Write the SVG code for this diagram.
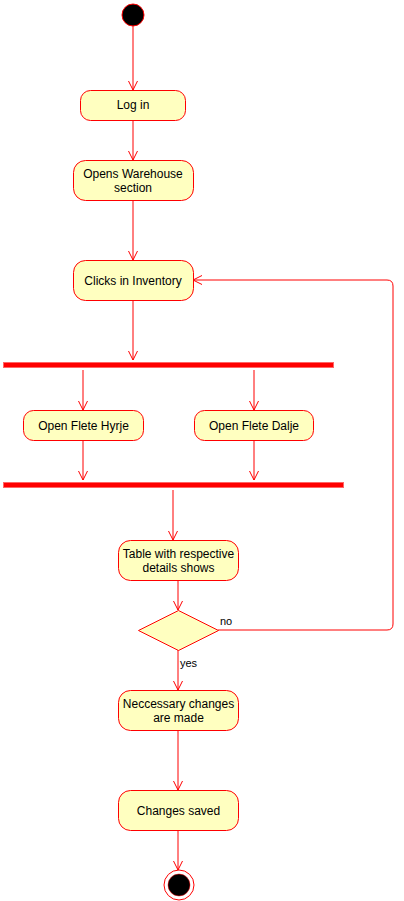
<svg xmlns="http://www.w3.org/2000/svg" width="404" height="901" viewBox="0 0 404 901">
<style>
.act{fill:#ffffc0;stroke:#ff0000;stroke-width:1}
.bar{fill:#ff0000;stroke:#ff6666;stroke-width:1}
.t{font-family:"Liberation Sans",Arial,sans-serif;font-size:12px;fill:#000;text-anchor:middle}
.lbl{font-family:"Liberation Sans",Arial,sans-serif;font-size:11px;fill:#000}
.c{fill:none;stroke:#ff0000;stroke-width:1;marker-end:url(#arr)}
</style>
<defs>
<marker id="arr" markerUnits="userSpaceOnUse" markerWidth="12" markerHeight="12" viewBox="-10 -6 12 12" refX="0" refY="0" orient="auto">
<path d="M-9,-4.5 L0,0 L-9,4.5" fill="none" stroke="#ff0000" stroke-width="1"/>
</marker>
</defs>
<rect width="404" height="901" fill="#ffffff"/>
<g id="connectors">
<path class="c" d="M133,26 V90"/>
<path class="c" d="M133,120 V160"/>
<path class="c" d="M133,200 V260"/>
<path class="c" d="M133,300 V360"/>
<path class="c" d="M83,370 V410"/>
<path class="c" d="M254,370 V410"/>
<path class="c" d="M83,440 V480"/>
<path class="c" d="M254,440 V480"/>
<path class="c" d="M173,490 V540"/>
<path class="c" d="M178,580 V610"/>
<path class="c" d="M218,630 H387 Q393,630 393,624 V286 Q393,280 387,280 H193"/>
<path class="c" d="M178,650 V690"/>
<path class="c" d="M178,730 V790"/>
<path class="c" d="M178,830 V870"/>
<text class="lbl" x="220" y="625">no</text>
<text class="lbl" x="180" y="667">yes</text>
</g>
<g id="start"><circle cx="133" cy="15" r="11" fill="#000" stroke="#ff0000" stroke-width="1"/></g>
<g id="login"><rect class="act" x="80.5" y="90.5" width="105" height="30" rx="10"/><text class="t" x="133" y="109">Log in</text></g>
<g id="warehouse"><rect class="act" x="73.5" y="160.5" width="120" height="40" rx="12"/><text class="t" x="133" y="177.5">Opens Warehouse</text><text class="t" x="133" y="191.5">section</text></g>
<g id="inventory"><rect class="act" x="73.5" y="260.5" width="120" height="40" rx="12"/><text class="t" x="133" y="285">Clicks in Inventory</text></g>
<g id="fork"><rect class="bar" x="3.5" y="362.5" width="330" height="5"/></g>
<g id="hyrje"><rect class="act" x="23.5" y="410.5" width="120" height="30" rx="10"/><text class="t" x="83.5" y="430">Open Flete Hyrje</text></g>
<g id="dalje"><rect class="act" x="194.5" y="410.5" width="119" height="30" rx="10"/><text class="t" x="254" y="430">Open Flete Dalje</text></g>
<g id="join"><rect class="bar" x="3.5" y="482.5" width="340" height="5"/></g>
<g id="table"><rect class="act" x="118.5" y="540.5" width="120" height="40" rx="12"/><text class="t" x="178.5" y="558">Table with respective</text><text class="t" x="178.5" y="572">details shows</text></g>
<g id="decision"><path d="M138.5,630.5 L178.5,610.5 L218.5,630.5 L178.5,650.5 Z" fill="#ffffc0" stroke="#ff0000" stroke-width="1"/></g>
<g id="changes"><rect class="act" x="118.5" y="690.5" width="120" height="40" rx="12"/><text class="t" x="178.5" y="708">Neccessary changes</text><text class="t" x="178.5" y="722">are made</text></g>
<g id="saved"><rect class="act" x="118.5" y="790.5" width="120" height="40" rx="12"/><text class="t" x="178.5" y="815">Changes saved</text></g>
<g id="end"><circle cx="179" cy="885" r="15" fill="none" stroke="#ff0000" stroke-width="1"/><circle cx="179" cy="885" r="11" fill="#000" stroke="#ff0000" stroke-width="0.5"/></g>
</svg>
